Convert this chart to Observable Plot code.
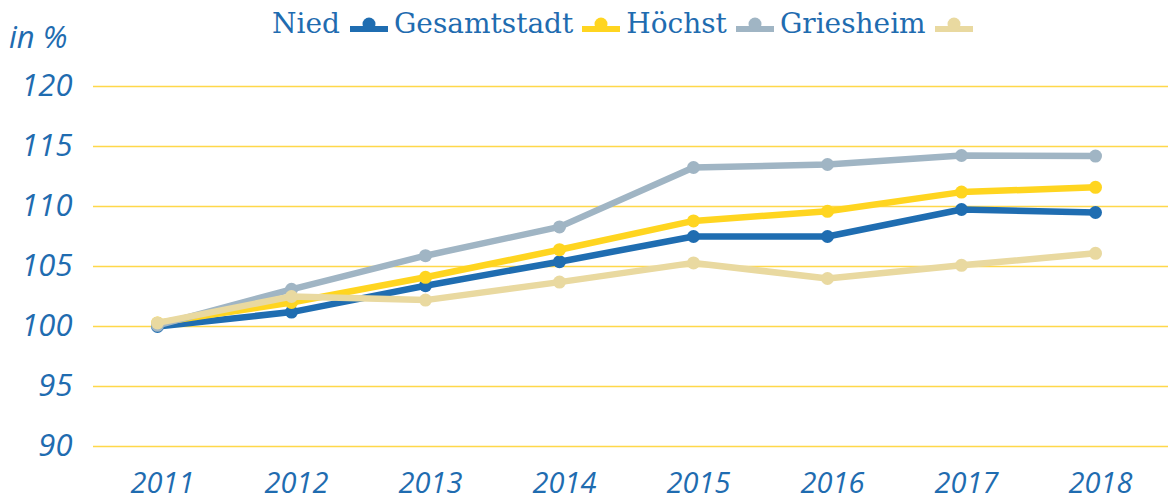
<!DOCTYPE html>
<html>
<head>
<meta charset="utf-8">
<script src="https://cdn.jsdelivr.net/npm/d3@7"></script>
<script src="https://cdn.jsdelivr.net/npm/@observablehq/plot@0.6"></script>
<style>
  html, body { margin: 0; padding: 0; background: #fff; }
  #wrap { width: 1168px; height: 502px; position: relative; overflow: hidden; }
  #head { position: relative; height: 50px; }
  #unit { position: absolute; left: 9px; top: 15px; font: italic 31px "Open Sans", sans-serif; color: #1f6cb0; }
  #legend { position: absolute; left: 272px; top: 3px; display: flex; align-items: center; font: 28px "DejaVu Serif", serif; color: #1f6cb0; white-space: nowrap; }
  #legend svg { display: block; }
</style>
</head>
<body>
<div id="wrap">
  <div id="head"><div id="unit">in %</div><div id="legend"></div></div>
  <div id="chart"></div>
</div>
<script>
const years = ["2011","2012","2013","2014","2015","2016","2017","2018"];
const seriesNames = ["Gesamtstadt", "Höchst", "Griesheim", "Nied"];
const seriesColors = ["#1f6db1", "#ffd520", "#a0b5c4", "#e9d9a0"];
const gesamtstadt = [100.0, 101.2, 103.4, 105.4, 107.5, 107.5, 109.75, 109.5];
const hoechst     = [100.3, 102.0, 104.1, 106.4, 108.8, 109.6, 111.2, 111.6];
const griesheim   = [100.1, 103.1, 105.9, 108.3, 113.25, 113.5, 114.25, 114.2];
const nied        = [100.3, 102.5, 102.2, 103.7, 105.3, 104.0, 105.1, 106.1];
const yTicks = [90, 95, 100, 105, 110, 115, 120];

const seriesValues = [gesamtstadt, hoechst, griesheim, nied];
const tables = seriesValues.map((vals, i) => years.map((y, j) => ({year: y, value: vals[j], series: seriesNames[i]})));

const marks = [
  Plot.ruleY(yTicks, {stroke: "#ffd84a", strokeWidth: 1.3})
];
tables.forEach((t, i) => {
  marks.push(Plot.line(t, {x: "year", y: "value", stroke: seriesColors[i], strokeWidth: 6.5, dx: -5, strokeLinejoin: "miter"}));
  marks.push(Plot.dot(t, {x: "year", y: "value", fill: seriesColors[i], r: 6.5, dx: -5}));
});
marks.push(Plot.axisX({tickSize: 0, tickPadding: 26, fontSize: 29, fontStyle: "italic", fill: "#1f6cb0"}));
marks.push(Plot.axisY({ticks: yTicks, tickSize: 0, tickPadding: 21, fontSize: 31, fontStyle: "italic", fill: "#1f6cb0", label: null}));

const chart = Plot.plot({
  width: 1168,
  height: 452,
  marginLeft: 93,
  marginRight: 0,
  marginTop: 36,
  marginBottom: 56,
  style: {fontFamily: "'Open Sans', sans-serif", background: "#fff", overflow: "visible"},
  x: {type: "point", domain: years, padding: 0.5, label: null},
  y: {domain: [90, 120], label: null},
  marks
});
document.getElementById("chart").appendChild(chart);

// legend
const legend = document.getElementById("legend");
function sym(color) {
  const s = d3.create("svg").attr("width", 40).attr("height", 40);
  s.append("line").attr("x1", 1).attr("x2", 39).attr("y1", 26).attr("y2", 26).attr("stroke", color).attr("stroke-width", 6);
  s.append("circle").attr("cx", 20).attr("cy", 21).attr("r", 6.5).attr("fill", color);
  return s.node();
}
function txt(t, ml, mr) {
  const e = document.createElement("span");
  e.textContent = t;
  e.style.marginLeft = ml + "px";
  e.style.marginRight = mr + "px";
  return e;
}
legend.appendChild(txt(seriesNames[3], 0, 9));
for (let i = 0; i < 4; i++) {
  legend.appendChild(sym(seriesColors[i]));
  if (i < 3) legend.appendChild(txt(seriesNames[i], 5, 8));
}
</script>
</body>
</html>
